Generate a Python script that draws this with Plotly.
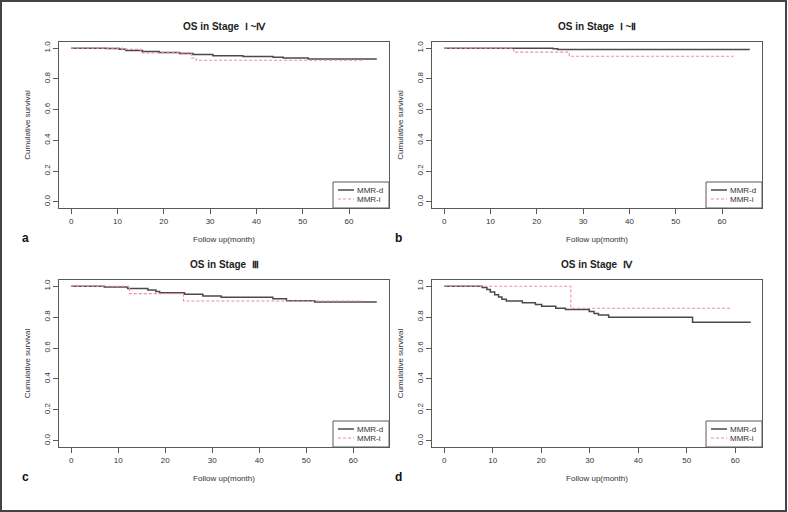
import plotly.graph_objects as go

# ---------------- data ----------------
panel_titles = ["OS in Stage\u00a0 Ⅰ\u00a0~Ⅳ", "OS in Stage\u00a0 Ⅰ\u00a0~Ⅱ", "OS in Stage\u00a0 Ⅲ", "OS in Stage\u00a0 Ⅳ"]
panel_letters = ["a", "b", "c", "d"]
series_names = ["MMR-d", "MMR-i"]

x_tick_vals = [0, 10, 20, 30, 40, 50, 60]
y_tick_vals = [0.0, 0.2, 0.4, 0.6, 0.8, 1.0]
y_tick_text = ["0.0", "0.2", "0.4", "0.6", "0.8", "1.0"]

a_d_time = [0, 7.5, 10.4, 11.8, 15.4, 19.0, 23.4, 26.3, 30.6, 37.1, 43.6, 45.8, 51.2, 66]
a_d_surv = [1.0, 0.997, 0.993, 0.984, 0.978, 0.971, 0.965, 0.958, 0.951, 0.945, 0.941, 0.936, 0.930, 0.930]
a_i_time = [0, 11.0, 15.0, 26.0, 27.0, 63]
a_i_surv = [1.0, 0.992, 0.969, 0.936, 0.921, 0.921]

b_d_time = [0, 23.5, 24.5, 66]
b_d_surv = [1.0, 0.996, 0.992, 0.992]
b_i_time = [0, 15.0, 27.0, 62.5]
b_i_surv = [1.0, 0.974, 0.947, 0.947]

c_d_time = [0, 7.0, 12.0, 16.3, 18.0, 18.8, 24.1, 28.0, 31.9, 42.9, 45.8, 51.8, 65]
c_d_surv = [1.0, 0.994, 0.985, 0.976, 0.965, 0.957, 0.948, 0.937, 0.929, 0.919, 0.906, 0.897, 0.897]
c_i_time = [0, 12.4, 23.9, 62]
c_i_surv = [1.0, 0.952, 0.904, 0.904]

d_d_time = [0, 7.8, 8.8, 9.5, 10.4, 11.2, 11.9, 12.8, 16.1, 18.8, 20.1, 23.0, 25.0, 29.9, 30.9, 31.8, 33.9, 51.2, 63.2]
d_d_surv = [1.0, 0.991, 0.978, 0.963, 0.945, 0.930, 0.915, 0.904, 0.893, 0.882, 0.871, 0.858, 0.849, 0.836, 0.824, 0.814, 0.799, 0.766, 0.766]
d_i_time = [0, 26.1, 59.2]
d_i_surv = [1.0, 0.857, 0.857]

x_max = [66, 66, 65, 63]

panels = [
    (a_d_time, a_d_surv, a_i_time, a_i_surv),
    (b_d_time, b_d_surv, b_i_time, b_i_surv),
    (c_d_time, c_d_surv, c_i_time, c_i_surv),
    (d_d_time, d_d_surv, d_i_time, d_i_surv),
]

# ---------------- layout geometry ----------------
W, H = 788, 512
# pixel boxes of the plot regions: (left, right, top, bottom)
boxes = [(59, 389, 42, 208), (432, 762, 42, 208), (59, 389, 280, 447), (432, 762, 280, 447)]

COL_D = "#4a4a4a"
COL_I = "#ee8e9c"
AXC = "#5a5a5a"
TXT = "#333333"
FONT = "Liberation Sans, Arial, sans-serif"
DASH = "3px,2px"

fig = go.Figure()
for k, (dt, ds, it, isv) in enumerate(panels):
    n = k + 1
    xa = "x" if n == 1 else f"x{n}"
    ya = "y" if n == 1 else f"y{n}"
    fig.add_trace(go.Scatter(x=dt, y=ds, mode="lines", line=dict(color=COL_D, width=1.5, shape="hv"),
                             name=series_names[0], xaxis=xa, yaxis=ya, showlegend=False))
    fig.add_trace(go.Scatter(x=it, y=isv, mode="lines", line=dict(color=COL_I, width=1.1, shape="hv", dash=DASH),
                             name=series_names[1], xaxis=xa, yaxis=ya, showlegend=False))

layout = dict(
    width=W, height=H, margin=dict(l=0, r=0, t=0, b=0),
    paper_bgcolor="white", plot_bgcolor="white",
    font=dict(family=FONT, color=TXT, size=8),
)
annotations = []
shapes = []


def px(xp):
    return xp / W


def py(yp):
    return 1 - yp / H


for k, (l, r, t, b) in enumerate(boxes):
    n = k + 1
    xs = "xaxis" if n == 1 else f"xaxis{n}"
    ys = "yaxis" if n == 1 else f"yaxis{n}"
    ext = 0.04 * x_max[k]
    common = dict(showline=True, mirror=True, linecolor=AXC, linewidth=1, ticks="outside",
                  ticklen=5, tickcolor=AXC, tickwidth=1, showgrid=False, zeroline=False,
                  automargin=False, tickfont=dict(size=8, color=TXT, family=FONT))
    layout[xs] = dict(domain=[px(l), px(r)], range=[-ext, x_max[k] + ext], tickvals=x_tick_vals,
                      anchor="y" if n == 1 else f"y{n}",
                      title=dict(text="Follow up(month)", font=dict(size=8, color=TXT), standoff=11),
                      **common)
    layout[ys] = dict(domain=[py(b), py(t)], range=[-0.04, 1.04], tickvals=y_tick_vals,
                      ticktext=y_tick_text, tickangle=-90,
                      anchor="x" if n == 1 else f"x{n}",
                      title=dict(text="Cumulative survival", font=dict(size=8, color=TXT), standoff=10),
                      **common)
    annotations.append(dict(text=f"<b>{panel_titles[k]}</b>", x=px((l + r) / 2), y=py(t - 16),
                            xref="paper", yref="paper", showarrow=False, xanchor="center", yanchor="middle",
                            font=dict(size=10, color="#222222", family=FONT)))
    annotations.append(dict(text=f"<b>{panel_letters[k]}</b>", x=px(l - 34), y=py(b + 30),
                            xref="paper", yref="paper", showarrow=False, xanchor="center", yanchor="middle",
                            font=dict(size=12, color="#111111", family=FONT)))
    # legend box (R style, bottom-right of each panel)
    shapes.append(dict(type="rect", xref="paper", yref="paper", x0=px(r - 56), x1=px(r), y0=py(b), y1=py(b - 26),
                       line=dict(color=AXC, width=1), fillcolor="white", layer="above"))
    for j, (name, col, dash, wdt) in enumerate([(series_names[0], COL_D, "solid", 1.5),
                                                 (series_names[1], COL_I, DASH, 1.1)]):
        yy = b - 18 + 9 * j
        shapes.append(dict(type="line", xref="paper", yref="paper", x0=px(r - 51), x1=px(r - 35),
                           y0=py(yy), y1=py(yy), line=dict(color=col, width=wdt, dash=dash), layer="above"))
        annotations.append(dict(text=name, x=px(r - 33), y=py(yy), xref="paper", yref="paper",
                                showarrow=False, xanchor="left", yanchor="middle", borderpad=0,
                                font=dict(size=8, color=TXT, family=FONT)))

shapes.append(dict(type="rect", xref="paper", yref="paper", x0=px(1), x1=px(W - 2), y0=py(H - 1), y1=py(1),
                   line=dict(color="#444444", width=2)))
layout["annotations"] = annotations
layout["shapes"] = shapes
fig.update_layout(**layout)
fig.write_html("out.html", config={"displayModeBar": False},
               post_script="document.body.style.margin='0px';")
